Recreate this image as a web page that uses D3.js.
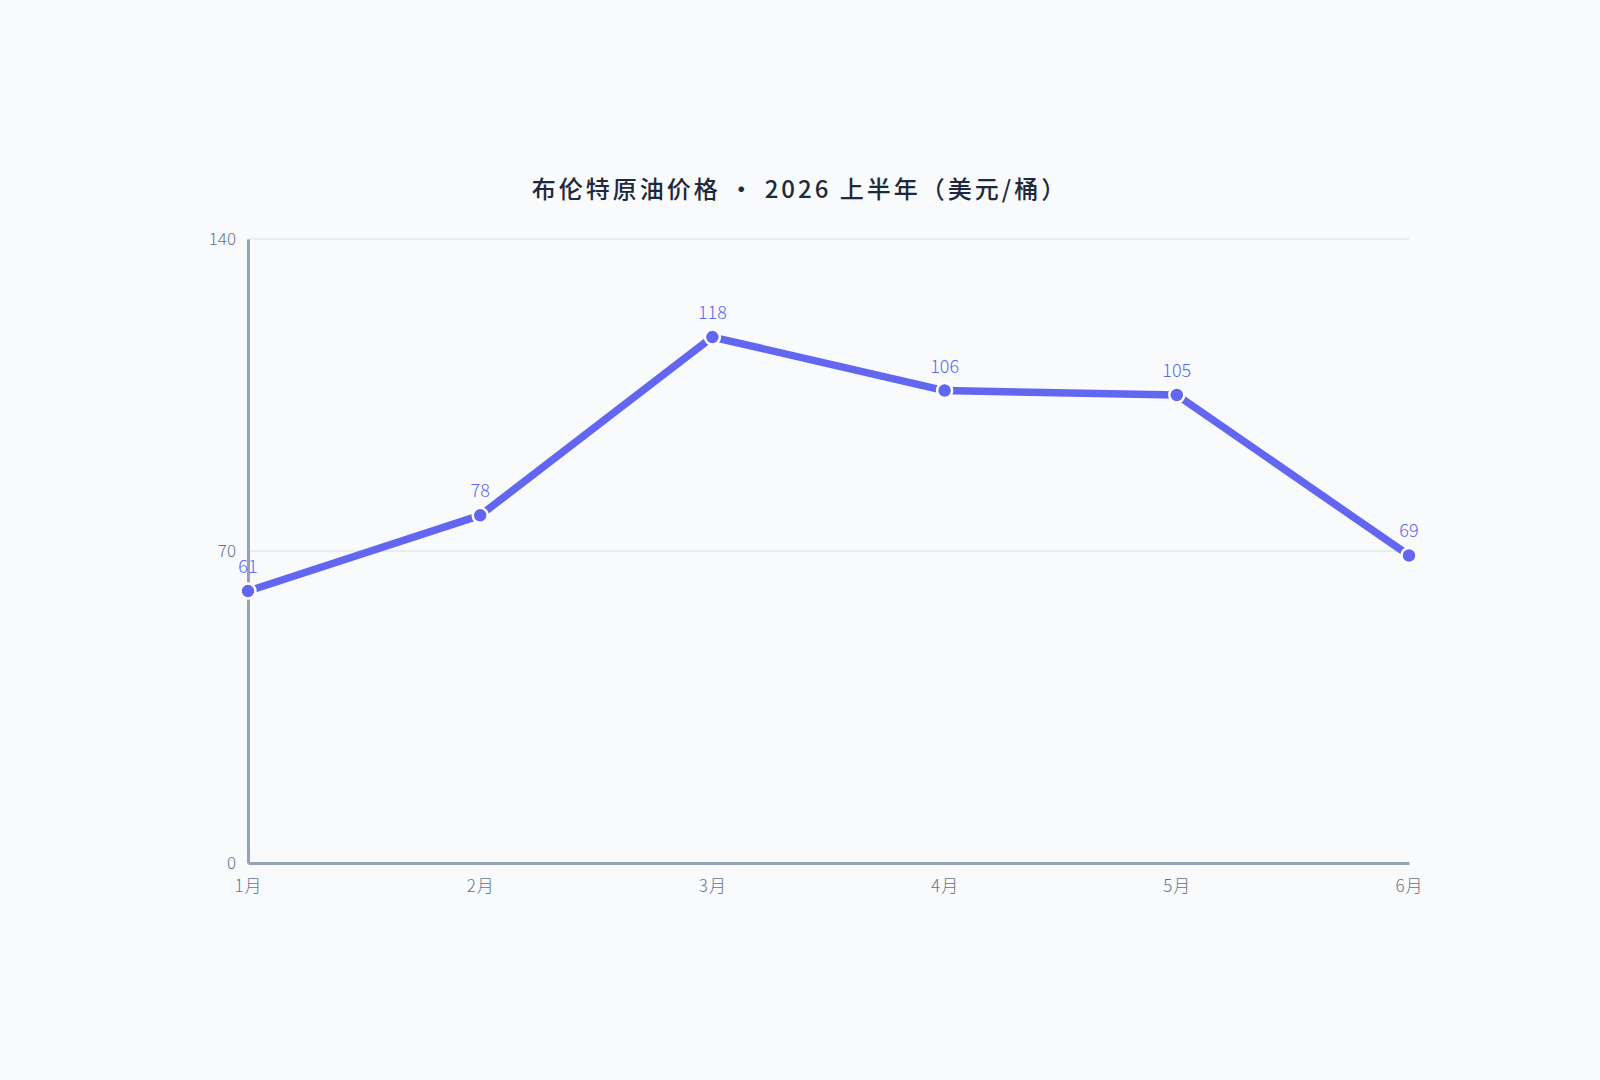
<!DOCTYPE html>
<html>
<head>
<meta charset="utf-8">
<script src="https://cdn.jsdelivr.net/npm/d3@7/dist/d3.min.js"></script>
<style>
  html, body { margin: 0; padding: 0; background: #f8fafc; }
  svg { display: block; }
</style>
</head>
<body>
<div id="chart"></div>
<script>
// chart data
var months = ["1月", "2月", "3月", "4月", "5月", "6月"];
var prices = [61, 78, 118, 106, 105, 69];
var yTicks = [0, 70, 140];
var title = "布伦特原油价格 · 2026 上半年（美元/桶）";

var width = 1600, height = 1080;
var margin = {top: 239, right: 191, bottom: 217, left: 248};
var font = "'Noto Sans CJK SC', 'Noto Sans', sans-serif";

var svg = d3.select("#chart").append("svg")
    .attr("width", width)
    .attr("height", height)
    .style("background", "#f8fafc");

var x = d3.scalePoint()
    .domain(months)
    .range([margin.left, width - margin.right]);

var y = d3.scaleLinear()
    .domain([0, 140])
    .range([height - margin.bottom, margin.top]);

// title
svg.append("text")
    .attr("x", width / 2)
    .attr("y", 198)
    .attr("text-anchor", "middle")
    .style("font-family", font)
    .style("font-size", "24px")
    .style("font-weight", 500)
    .style("letter-spacing", "3px")
    .style("fill", "#1e293b")
    .text(title);

// gridlines
svg.append("g")
    .selectAll("line")
    .data(yTicks.filter(function(d) { return d > 0; }))
    .enter().append("line")
    .attr("x1", margin.left)
    .attr("x2", width - margin.right)
    .attr("y1", function(d) { return y(d); })
    .attr("y2", function(d) { return y(d); })
    .style("stroke", "#e2e8f0")
    .style("stroke-width", 1.5);

// y axis
var yAxis = svg.append("g")
    .attr("transform", "translate(" + margin.left + ",0)")
    .call(d3.axisLeft(y).tickValues(yTicks).tickSize(0).tickPadding(12));
yAxis.select(".domain").style("stroke", "#94a3b8").style("stroke-width", 3);
yAxis.selectAll("text")
    .style("font-family", font)
    .style("font-size", "17px")
    .style("font-weight", 300)
    .style("fill", "#64748b");

// x axis
var xAxis = svg.append("g")
    .attr("transform", "translate(0," + (height - margin.bottom) + ")")
    .call(d3.axisBottom(x).tickSize(0).tickPadding(17));
xAxis.select(".domain").style("stroke", "#94a3b8").style("stroke-width", 3);
xAxis.selectAll("text")
    .style("font-family", font)
    .style("font-size", "17px")
    .style("font-weight", 300)
    .style("letter-spacing", "1px")
    .style("fill", "#64748b");

var data = months.map(function(m, i) { return {month: m, value: prices[i]}; });

// line
var line = d3.line()
    .x(function(d) { return x(d.month); })
    .y(function(d) { return y(d.value); });

svg.append("path")
    .datum(data)
    .attr("d", line)
    .style("fill", "none")
    .style("stroke", "#6366f1")
    .style("stroke-width", 7.5)
    .style("stroke-linejoin", "round")
    .style("stroke-linecap", "round");

// points
svg.append("g")
    .selectAll("circle")
    .data(data)
    .enter().append("circle")
    .attr("cx", function(d) { return x(d.month); })
    .attr("cy", function(d) { return y(d.value); })
    .attr("r", 7.5)
    .style("fill", "#6366f1")
    .style("stroke", "#ffffff")
    .style("stroke-width", 2.5);

// value labels
svg.append("g")
    .selectAll("text")
    .data(data)
    .enter().append("text")
    .attr("x", function(d) { return x(d.month); })
    .attr("y", function(d) { return y(d.value) - 18; })
    .attr("text-anchor", "middle")
    .style("font-family", font)
    .style("font-size", "18px")
    .style("font-weight", 300)
    .style("fill", "#6366f1")
    .text(function(d) { return d.value; });
</script>
</body>
</html>
